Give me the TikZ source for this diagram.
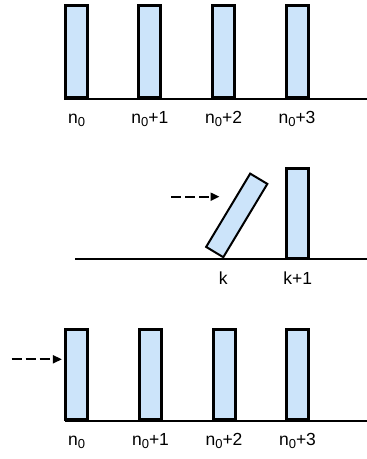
\documentclass[tikz,border=0pt]{standalone}
\usepackage{fontspec}
\setmainfont{Liberation Sans}
\usetikzlibrary{arrows.meta}
\definecolor{barblue}{RGB}{204,228,250}
\newcommand{\nsubz}[1]{n\raisebox{-3pt}{\fontsize{13}{13}\selectfont #1}}
\begin{document}
\begin{tikzpicture}[x=1pt,y=-1pt,
  bar/.style={draw=black, line width=3pt, fill=barblue, minimum width=22pt, minimum height=90pt, inner sep=0pt, anchor=south},
  tallbar/.style={bar, minimum height=92pt},
  tiltbar/.style={draw=black, line width=2pt, fill=barblue, minimum width=20pt, minimum height=85.5pt, inner sep=0pt, outer sep=0pt},
  ground/.style={line width=1.8pt},
  lab/.style={font=\fontsize{17.5}{20}\selectfont, anchor=base, inner sep=0pt},
  push/.style={line width=2pt, dash pattern=on 10pt off 4pt, -{Triangle[length=9pt,width=8pt]}}]
\useasboundingbox (0,0) rectangle (367,459);

% ---- top row ----
\coordinate (g1) at (367,98.6);
\draw[ground] (64,98.6) -- (g1);
\node[tallbar] (a1) at (76.7,99.3) {};
\node[tallbar] (a2) at (149.8,99.3) {};
\node[tallbar] (a3) at (223.7,99.3) {};
\node[tallbar] (a4) at (297,99.3) {};
\node[lab] (la1) at ([yshift=-24.3pt]a1.south) {\nsubz{0}};
\node[lab] (la2) at ([yshift=-24.3pt]a2.south) {\nsubz{0}+1};
\node[lab] (la3) at ([yshift=-24.3pt]a3.south) {\nsubz{0}+2};
\node[lab] (la4) at ([yshift=-24.3pt]a4.south) {\nsubz{0}+3};

% ---- middle row ----
\coordinate (g2) at (367,259.3);
\draw[ground] (75,259.3) -- (g2);
\node[tiltbar, rotate=-31, anchor=south east] (k) at (223.3,257.2) {};
\node[bar] (k1) at (297.7,260) {};
\node[lab] (lk) at (223.3,284) {k};
\node[lab] (lk1) at ([yshift=-24.3pt]k1.south) {k+1};
\coordinate (m0) at (171,196.7);
\coordinate (m1) at (219.5,196.7);
\draw[push] (m0) -- (m1);

% ---- bottom row ----
\coordinate (g3) at (367,420.7);
\draw[ground] (65,420.7) -- (g3);
\node[bar] (b1) at (76.7,421.4) {};
\node[bar] (b2) at (150.5,421.4) {};
\node[bar] (b3) at (224,421.4) {};
\node[bar] (b4) at (297.5,421.4) {};
\node[lab] (lb1) at ([yshift=-24.3pt]b1.south) {\nsubz{0}};
\node[lab] (lb2) at ([yshift=-24.3pt]b2.south) {\nsubz{0}+1};
\node[lab] (lb3) at ([yshift=-24.3pt]b3.south) {\nsubz{0}+2};
\node[lab] (lb4) at ([yshift=-24.3pt]b4.south) {\nsubz{0}+3};
\coordinate (s0) at (11.7,359.3);
\draw[push, shorten >=2.3pt] (s0) -- (s0 -| b1.west);
\end{tikzpicture}
\end{document}
